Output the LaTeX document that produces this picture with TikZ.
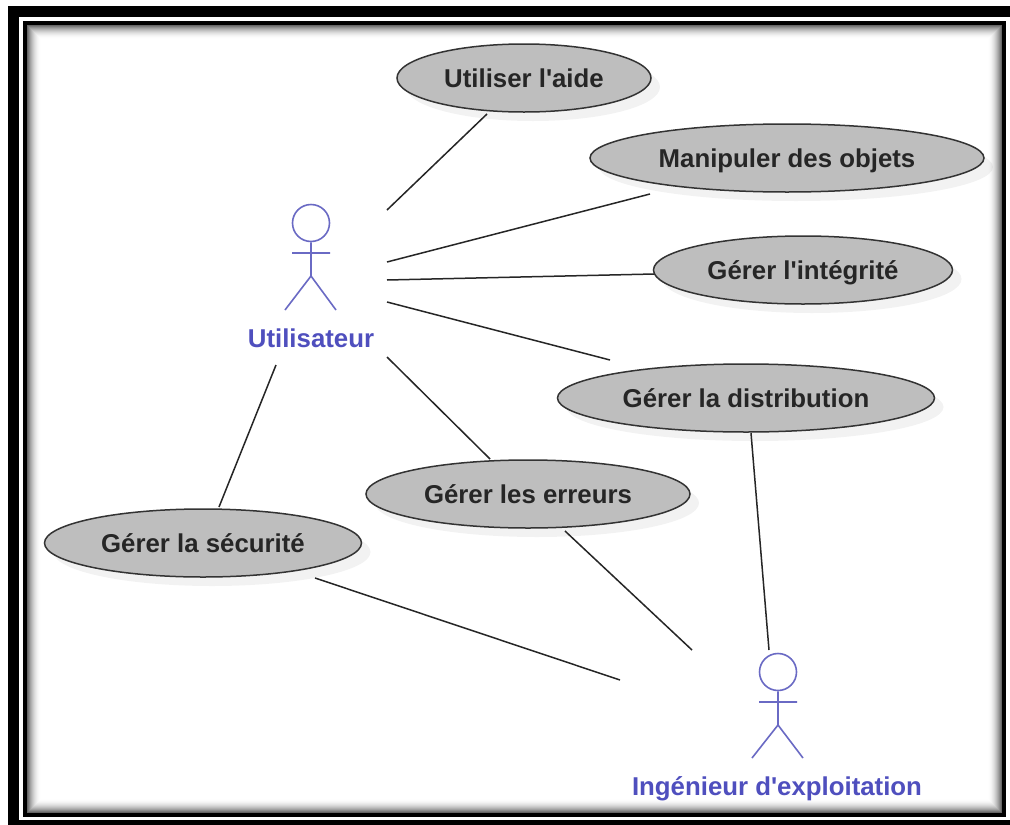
\documentclass[tikz,border=0pt]{standalone}
\usepackage{fontspec}
\setmainfont{Liberation Sans}
\usetikzlibrary{shapes.geometric,shadows}
\definecolor{actorblue}{HTML}{6A6AC4}
\definecolor{actortext}{HTML}{4F4FBE}
\definecolor{casefill}{HTML}{BEBEBE}
\tikzset{
  usecase/.style={ellipse,draw=black!80,line width=1.5pt,fill=casefill,minimum height=68pt,inner sep=0pt,
    text=black!85,font=\fontsize{25.8}{28}\selectfont\bfseries,text height=19pt,text depth=0pt,
    drop shadow={shadow xshift=9pt,shadow yshift=-9pt,fill=black,opacity=.05}},
  actorname/.style={text=actortext,font=\fontsize{25.8}{28}\selectfont\bfseries,inner sep=0pt,text height=19pt,text depth=0pt},
  actorline/.style={draw=actorblue,line width=1.6pt},
  link/.style={draw=black!85,line width=1.5pt},
}
\begin{document}
\begin{tikzpicture}[x=1pt,y=-1pt]
\useasboundingbox (0,0) rectangle (1010,825);
% frame
\fill[white] (0,0) rectangle (1010,825);
\fill[black] (8,6) rectangle (1010,825);
\fill[white] (19,17) rectangle (1010,820);
\fill[black] (23,21) rectangle (1006,817);
\fill[white] (27,25) rectangle (1002,813);
\foreach \i in {0,...,13}
  \draw[black,opacity={0.6*(1-\i/14)*(1-\i/14)},line width=1pt] (27.5+\i,25.5+\i) rectangle (1001.5-\i,812.5-\i);
% use cases
\node[usecase,minimum width=254pt] (aide) at (524,78) {Utiliser l\textquotesingle aide};
\node[usecase,minimum width=394pt] (objets) at (787,158) {Manipuler des objets};
\node[usecase,minimum width=299pt] (integrite) at (803,270) {Gérer l\textquotesingle intégrité};
\node[usecase,minimum width=377pt] (distribution) at (746,398) {Gérer la distribution};
\node[usecase,minimum width=324pt] (erreurs) at (528,494) {Gérer les erreurs};
\node[usecase,minimum width=317pt] (securite) at (203,543) {Gérer la sécurité};
% actors
\node[actorname] (utilisateur) at (311,338) {Utilisateur};
\node[circle,actorline,minimum size=37pt,inner sep=0pt] (teteU) at (311,223) {};
\draw[actorline] (teteU.south) -- (311,276) -- (285,310) (311,276) -- (336,310) (292,253) -- (330,253);
\node[actorname] (ingenieur) at (777,786) {Ingénieur d\textquotesingle exploitation};
\node[circle,actorline,minimum size=37pt,inner sep=0pt] (teteI) at (778,672) {};
\draw[actorline] (teteI.south) -- (778,725) -- (752,758) (778,725) -- (803,758) (759,702) -- (797,702);
% free ends near the actors
\coordinate (ua) at (387,210);
\coordinate (uo) at (387,262);
\coordinate (ui) at (387,280);
\coordinate (ud) at (387,302);
\coordinate (ue) at (387,357);
\coordinate (us) at (276,365);
\coordinate (ie) at (692,650);
\coordinate (is) at (620,680);
\coordinate (id) at (769,650);
\coordinate (aideb) at (487,114);
\coordinate (objetsb) at (650,194);
\coordinate (integriteg) at (654,274);
\coordinate (distribh) at (610,360);
\coordinate (distribb) at (751,433);
\coordinate (erreursh) at (490,459);
\coordinate (erreursb) at (565,531);
\coordinate (securiteh) at (219,507);
\coordinate (securiteb) at (315,578);
\draw[link] (ua) -- (aideb);
\draw[link] (uo) -- (objetsb);
\draw[link] (ui) -- (integriteg);
\draw[link] (ud) -- (distribh);
\draw[link] (ue) -- (erreursh);
\draw[link] (us) -- (securiteh);
\draw[link] (securiteb) -- (is);
\draw[link] (erreursb) -- (ie);
\draw[link] (distribb) -- (id);
\end{tikzpicture}
\end{document}
